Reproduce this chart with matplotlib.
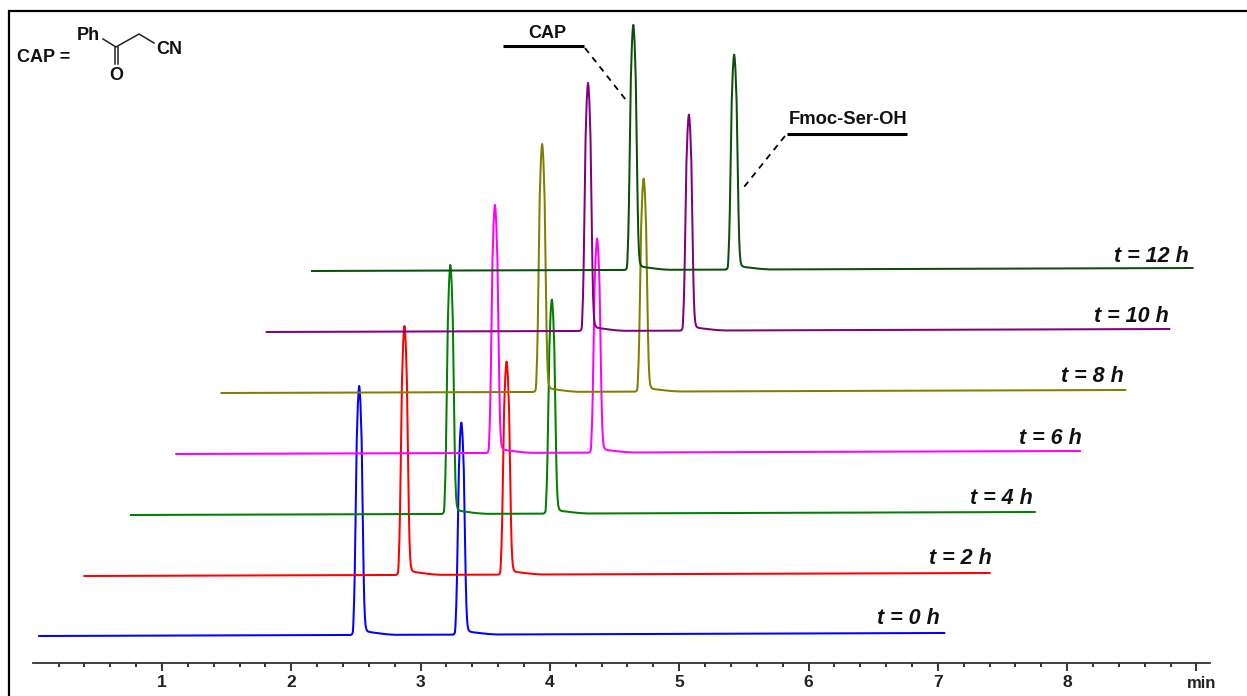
import matplotlib
matplotlib.use("Agg")
import matplotlib.pyplot as plt
import numpy as np
from matplotlib.ticker import MultipleLocator

W, H = 1247, 696
plt.rcParams['font.family'] = ['Liberation Sans', 'DejaVu Sans']

# values (time in min, signal in detector units)
labels = ['t = 0 h', 't = 2 h', 't = 4 h', 't = 6 h', 't = 8 h', 't = 10 h', 't = 12 h']
colors = ['#0000ff', '#ff0000', '#008000', '#ff00ff', '#808000', '#800080', '#0b4f0b']
start_times = [0.05, 0.40, 0.76, 1.11, 1.46, 1.81, 2.16]
end_times = [7.05, 7.40, 7.75, 8.10, 8.45, 8.79, 8.97]
cap_rt = [2.525, 2.875, 3.23, 3.575, 3.94, 4.295, 4.645]
fmoc_rt = [3.315, 3.665, 4.015, 4.365, 4.725, 5.075, 5.425]
cap_height = [249, 249, 249, 248, 248, 248, 245]
fmoc_height = [212, 213, 214, 214, 213, 216, 215]
baseline_start = [636, 576, 515, 454, 393, 332, 271]
baseline_end = [633, 573, 512, 451, 390, 329, 268]

# one peak: minutes from apex / fraction of height
peak_dt = [-0.065, -0.054, -0.049, -0.046, -0.043, -0.039, -0.034, -0.027, -0.019, -0.010, -0.004, 0.0,
           0.004, 0.010, 0.019, 0.027, 0.034, 0.039, 0.044, 0.049, 0.054, 0.060, 0.068, 0.080,
           0.10, 0.13, 0.17, 0.22, 0.28]
peak_frac = [0.0, 0.004, 0.012, 0.035, 0.08, 0.14, 0.26, 0.50, 0.78, 0.93, 0.985, 1.0,
             0.985, 0.93, 0.78, 0.50, 0.26, 0.14, 0.075, 0.04, 0.026, 0.018, 0.014, 0.012,
             0.010, 0.008, 0.005, 0.002, 0.0]

fig = plt.figure(figsize=(W / 100, H / 100), dpi=100)

# main axes: x from spine pixels, y in pixel-sized detector units
x_left, x_right = 33, 1210
y_axis = 663
ax = fig.add_axes([x_left / W, 1 - y_axis / H, (x_right - x_left) / W, y_axis / H])
ax.set_xlim((x_left - 162) / 129.3 + 1, (x_right - 162) / 129.3 + 1)
ax.set_ylim(y_axis, 0)
ax.patch.set_alpha(0)
for s in ('left', 'right', 'top'):
    ax.spines[s].set_visible(False)
ax.spines['bottom'].set_linewidth(1.3)
ax.spines['bottom'].set_color('#333333')
ax.yaxis.set_visible(False)
ax.xaxis.set_major_locator(MultipleLocator(1))
ax.xaxis.set_minor_locator(MultipleLocator(0.2))
ax.tick_params(axis='x', which='major', length=5.6, width=1.4, color='#333333', pad=3)
ax.tick_params(axis='x', which='minor', length=3.0, width=1.4, color='#333333')
ax.set_xticks(range(1, 10))
ax.set_xticklabels(['1', '2', '3', '4', '5', '6', '7', '8', ''],
                   fontsize=12.5, fontweight='bold', color='#222222')

for i, lab in enumerate(labels):
    t0, t1 = start_times[i], end_times[i]
    b0, b1 = baseline_start[i], baseline_end[i]
    pts = {t0: 0.0, t1: 0.0}
    for rt, h in ((cap_rt[i], cap_height[i]), (fmoc_rt[i], fmoc_height[i])):
        for dt, fr in zip(peak_dt, peak_frac):
            pts[round(rt + dt, 4)] = pts.get(round(rt + dt, 4), 0.0) + fr * h
    t = np.array(sorted(pts))
    sig = np.array([pts[k] for k in t])
    base = np.interp(t, [t0, t1], [b0, b1])
    ax.plot(t, base - sig, color=colors[i], lw=1.45, solid_joinstyle='round', clip_on=False,
            zorder=2 + i)

# overlay in pixel coordinates for frame, labels and the annotations
ov = fig.add_axes([0, 0, 1, 1])
ov.set_xlim(0, W)
ov.set_ylim(H, 0)
ov.axis('off')
ov.patch.set_alpha(0)

ov.plot([9, 9, W], [H, 11, 11], color='black', lw=1.6, solid_joinstyle='miter')

label_xy = [(908, 619), (960, 559), (1001, 499), (1050, 439), (1092, 377), (1131, 316), (1151, 257)]
for (x, y), lab in zip(label_xy, labels):
    ov.text(x, y, lab, fontsize=15.5, fontweight='bold', style='italic', ha='center', va='center',
            color='#111111')
ov.text(1202, 684, 'min', fontsize=12, fontweight='bold', ha='center', va='center', color='#222222')

# CAP callout
ov.text(547, 34, 'CAP', fontsize=13, fontweight='bold', ha='center', va='center', color='#111111')
ov.plot([503, 584], [46, 46], color='black', lw=2.2, solid_capstyle='butt')
ov.plot([585, 626], [48, 100], color='black', lw=1.3, ls=(0, (3.5, 3)))
# Fmoc callout
ov.text(848, 120, 'Fmoc-Ser-OH', fontsize=13.2, fontweight='bold', ha='center', va='center', color='#111111')
ov.plot([787, 907], [134, 134], color='black', lw=2.2, solid_capstyle='butt')
ov.plot([785, 744], [136, 187], color='black', lw=1.3, ls=(0, (3.5, 3)))

# structure of CAP
ov.text(44, 58, 'CAP =', fontsize=13, fontweight='bold', ha='center', va='center', color='#111111')
ov.text(88, 36, 'Ph', fontsize=13, fontweight='bold', ha='center', va='center', color='#111111')
ov.text(169, 50, 'CN', fontsize=13, fontweight='bold', ha='center', va='center', color='#111111')
ov.text(116, 76, 'O', fontsize=13, fontweight='bold', ha='center', va='center', color='#111111')
ov.plot([103, 116, 139, 154], [39, 47, 34, 43], color='#222222', lw=1.1)
ov.plot([114.5, 114.5], [47, 64], color='#222222', lw=1.1)
ov.plot([118, 118], [47, 64], color='#222222', lw=1.1)

fig.savefig('out.png', dpi=100, facecolor='white')
